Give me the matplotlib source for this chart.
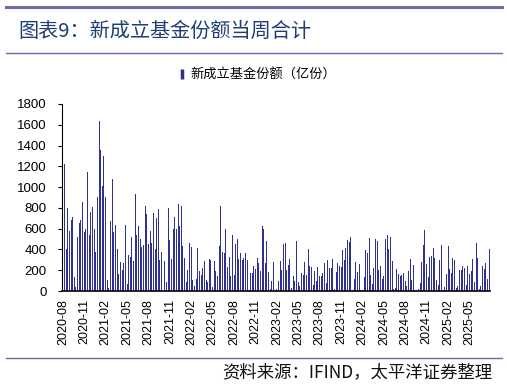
import numpy as np
import pandas as pd
import matplotlib
matplotlib.use("Agg")
import matplotlib.pyplot as plt
from matplotlib.lines import Line2D

plt.rcParams.update({
    "font.family": ["Liberation Sans", "Noto Sans CJK SC", "DejaVu Sans"],
    "font.size": 9,
})

# weekly new fund shares (亿份), week ending Sunday, starting 2020-08-09
start_date = "2020-08-09"

shares_2020_21 = [
    600, 1225, 400, 800, 580, 680, 710, 130, 40, 520,
    650, 680, 860, 570, 600, 1145, 540, 760, 810, 600,
    380, 905, 1635, 1355, 1010, 1300, 905, 110, 30, 670,
    1075, 570, 640, 400, 160, 280, 200, 270, 640, 70,
    350, 330, 520, 290, 935, 540, 630, 500, 420, 440,
    815, 740, 450, 580, 460, 750, 400, 700, 790, 300,
]
shares_2021_23 = [
    380, 0, 290, 90, 800, 490, 310, 595, 715, 600,
    835, 625, 815, 430, 320, 90, 200, 460, 425,
    110, 50, 120, 410, 190, 155, 220, 290, 110, 90,
    310, 300, 40, 290, 190, 140, 430, 820, 380, 370,
    600, 235, 330, 145, 540, 155, 450, 500, 310, 370,
    300, 315, 370, 300, 10, 175, 170, 240, 210,
    320, 270, 190, 630, 600, 270, 480, 185, 20, 100,
    280, 10, 20, 100, 290, 200, 450, 460, 200, 250,
    310, 30, 145, 95, 480, 90, 50, 170, 155, 280,
    155, 400, 240, 230, 60, 190, 100, 230, 145, 145,
]
shares_2023_25 = [
    175, 265, 80, 300, 220, 220, 310, 20, 185,
    270, 240, 235, 390, 300, 410, 490, 475, 520, 10,
    120, 280, 185, 260, 10, 10, 130, 390, 370,
    510, 155, 65, 220, 500, 480, 200, 240, 120, 145,
    500, 540, 400, 520, 285, 20, 30, 210, 165, 145,
    150, 175, 100, 50, 190, 310, 110, 250, 10, 10,
    20, 75, 280, 440, 590, 260, 130, 330, 340, 410,
    315, 110, 60, 300, 440, 10, 40, 160, 430,
    210, 170, 320, 300, 30, 50, 200, 200, 240, 220,
    60, 240, 160, 190, 310, 90, 460, 320, 20, 50,
    240, 210, 270, 120, 400,
]
shares = np.array(shares_2020_21 + shares_2021_23 + shares_2023_25)
weeks = pd.date_range(start_date, periods=len(shares), freq="W-SUN")
tick_step = 13

BAR = "#2E3192"
RULE = "#6A6CA8"
CJK = ["Noto Sans CJK SC", "DejaVu Sans"]

fig = plt.figure(figsize=(5.07, 3.86), dpi=100)
ax = fig.add_axes([62 / 507, 1 - 291 / 386, 428 / 507, 187 / 386])

x = np.arange(len(shares))
ax.bar(x, shares, width=0.6, color=BAR, linewidth=0)

ax.set_xlim(-0.5, len(shares) - 0.5)
ax.set_ylim(0, 1800)
ax.set_yticks(np.arange(0, 1801, 200))
ticks = x[::tick_step]
ax.set_xticks(ticks)
ax.set_xticklabels([d.strftime("%Y-%m") for d in weeks[::tick_step]],
                   rotation=90, fontsize=9)
ax.tick_params(axis="y", direction="out", length=3, width=0.8, labelsize=9.5, pad=8)
ax.tick_params(axis="x", length=0, pad=6)
for s in ("top", "right"):
    ax.spines[s].set_visible(False)
ax.spines["left"].set_linewidth(0.8)
ax.spines["bottom"].set_linewidth(1.2)

# legend
leg_handle = Line2D([], [], marker="|", color=BAR, linestyle="none",
                    markersize=7, markeredgewidth=2.5)
fig.legend([leg_handle], ["新成立基金份额（亿份）"], loc="center",
           bbox_to_anchor=(256 / 507, 1 - 75 / 386), frameon=False,
           handletextpad=0.1, handlelength=1.0,
           prop={"family": CJK, "size": 9.5})

# header / footer rules and texts
fig.add_artist(Line2D([6 / 507, 502 / 507], [1 - 7 / 386] * 2, color=RULE, lw=2.2))
fig.add_artist(Line2D([6 / 507, 502 / 507], [1 - 53 / 386] * 2, color=RULE, lw=1.0))
fig.add_artist(Line2D([6 / 507, 502 / 507], [1 - 358 / 386] * 2, color=RULE, lw=1.0))
fig.text(18 / 507, 1 - 31 / 386, "图表9：新成立基金份额当周合计", fontsize=14.5,
         color="#1F3F73", va="center", ha="left", family=CJK)
fig.text(492 / 507, 1 - 372 / 386, "资料来源：IFIND，太平洋证券整理", fontsize=12.5,
         color="#111111", va="center", ha="right", style="italic", family=CJK)

fig.savefig("out.png", dpi=100)
